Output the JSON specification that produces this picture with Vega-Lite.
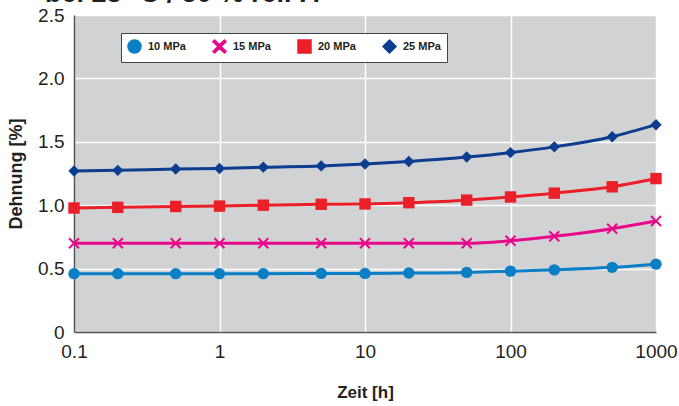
{
  "$schema": "https://vega.github.io/schema/vega-lite/v6.json",
  "autosize": "none",
  "width": 582,
  "height": 317,
  "padding": {"left": 74, "top": 15, "right": 23, "bottom": 74},
  "background": "white",
  "title": {"text": "bei 23 °C / 50 % rel. F.", "anchor": "start", "frame": "group", "fontSize": 27, "font": "Liberation Sans", "fontWeight": "bold", "color": "#231f20", "dx": -29, "offset": -2},
  "config": {
    "view": {"fill": "#d1d2d4", "stroke": null},
    "font": "Liberation Sans"
  },
  "data": {"values": [
    {"t": 0.1, "v": 0.46, "s": "10 MPa"}, {"t": 0.2, "v": 0.46, "s": "10 MPa"}, {"t": 0.5, "v": 0.46, "s": "10 MPa"}, {"t": 1, "v": 0.46, "s": "10 MPa"}, {"t": 2, "v": 0.46, "s": "10 MPa"}, {"t": 5, "v": 0.462, "s": "10 MPa"}, {"t": 10, "v": 0.462, "s": "10 MPa"}, {"t": 20, "v": 0.465, "s": "10 MPa"}, {"t": 50, "v": 0.47, "s": "10 MPa"}, {"t": 100, "v": 0.48, "s": "10 MPa"}, {"t": 200, "v": 0.49, "s": "10 MPa"}, {"t": 500, "v": 0.51, "s": "10 MPa"}, {"t": 1000, "v": 0.535, "s": "10 MPa"},
    {"t": 0.1, "v": 0.70, "s": "15 MPa"}, {"t": 0.2, "v": 0.70, "s": "15 MPa"}, {"t": 0.5, "v": 0.70, "s": "15 MPa"}, {"t": 1, "v": 0.70, "s": "15 MPa"}, {"t": 2, "v": 0.70, "s": "15 MPa"}, {"t": 5, "v": 0.70, "s": "15 MPa"}, {"t": 10, "v": 0.70, "s": "15 MPa"}, {"t": 20, "v": 0.70, "s": "15 MPa"}, {"t": 50, "v": 0.70, "s": "15 MPa"}, {"t": 100, "v": 0.72, "s": "15 MPa"}, {"t": 200, "v": 0.755, "s": "15 MPa"}, {"t": 500, "v": 0.815, "s": "15 MPa"}, {"t": 1000, "v": 0.875, "s": "15 MPa"},
    {"t": 0.1, "v": 0.978, "s": "20 MPa"}, {"t": 0.2, "v": 0.983, "s": "20 MPa"}, {"t": 0.5, "v": 0.99, "s": "20 MPa"}, {"t": 1, "v": 0.993, "s": "20 MPa"}, {"t": 2, "v": 1.0, "s": "20 MPa"}, {"t": 5, "v": 1.007, "s": "20 MPa"}, {"t": 10, "v": 1.01, "s": "20 MPa"}, {"t": 20, "v": 1.02, "s": "20 MPa"}, {"t": 50, "v": 1.04, "s": "20 MPa"}, {"t": 100, "v": 1.065, "s": "20 MPa"}, {"t": 200, "v": 1.095, "s": "20 MPa"}, {"t": 500, "v": 1.145, "s": "20 MPa"}, {"t": 1000, "v": 1.21, "s": "20 MPa"},
    {"t": 0.1, "v": 1.27, "s": "25 MPa"}, {"t": 0.2, "v": 1.275, "s": "25 MPa"}, {"t": 0.5, "v": 1.285, "s": "25 MPa"}, {"t": 1, "v": 1.29, "s": "25 MPa"}, {"t": 2, "v": 1.30, "s": "25 MPa"}, {"t": 5, "v": 1.31, "s": "25 MPa"}, {"t": 10, "v": 1.325, "s": "25 MPa"}, {"t": 20, "v": 1.345, "s": "25 MPa"}, {"t": 50, "v": 1.38, "s": "25 MPa"}, {"t": 100, "v": 1.415, "s": "25 MPa"}, {"t": 200, "v": 1.46, "s": "25 MPa"}, {"t": 500, "v": 1.54, "s": "25 MPa"}, {"t": 1000, "v": 1.635, "s": "25 MPa"}
  ]},
  "encoding": {
    "x": {"field": "t", "type": "quantitative",
      "scale": {"type": "log", "domain": [0.1, 1000], "nice": false},
      "axis": {"values": [0.1, 1, 10, 100, 1000], "labelExpr": "datum.value < 1 ? '0.1' : format(datum.value, 'd')", "title": "Zeit [h]", "titleFontSize": 17, "titleFontWeight": "bold", "titleColor": "#231f20", "titlePadding": 23, "labelFontSize": 19, "labelColor": "#231f20", "labelPadding": 10, "ticks": false, "domainColor": "#555555", "domainWidth": 1.5, "gridColor": "white", "gridWidth": 1.5, "labelFont": "Liberation Sans", "labelFlush": false}},
    "y": {"field": "v", "type": "quantitative",
      "scale": {"domain": [0, 2.5], "nice": false},
      "axis": {"values": [0, 0.5, 1, 1.5, 2, 2.5], "labelExpr": "datum.value == 0 ? '0' : format(datum.value, '.1f')", "title": "Dehnung [%]", "titleFontSize": 18, "titleFontWeight": "bold", "titleColor": "#231f20", "titlePadding": 12, "labelFontSize": 19, "labelColor": "#231f20", "labelPadding": 10, "ticks": false, "domainColor": "#555555", "domainWidth": 1.5, "gridColor": "white", "gridWidth": 1.5, "labelFont": "Liberation Sans", "labelFlush": false}},
    "color": {"field": "s", "type": "nominal",
      "scale": {"domain": ["10 MPa", "15 MPa", "20 MPa", "25 MPa"], "range": ["#0a7fc6", "#e8088a", "#ea1f27", "#0c3d8e"]},
      "legend": {"orient": "none", "legendX": 47, "legendY": 18, "direction": "horizontal", "title": null, "fillColor": "white", "strokeColor": "#444444", "padding": 6, "labelFontSize": 11, "labelFontWeight": "bold", "labelColor": "#231f20", "symbolSize": 169, "columnPadding": 24, "symbolOpacity": 1, "labelOffset": 6}}
  },
  "layer": [
    {"mark": {"type": "line", "interpolate": "monotone", "strokeWidth": 3}},
    {"mark": {"type": "point", "filled": true, "opacity": 1, "size": 130},
     "encoding": {
       "shape": {"field": "s", "type": "nominal",
         "scale": {"domain": ["10 MPa", "15 MPa", "20 MPa", "25 MPa"], "range": ["circle", "M-1,-0.75L-0.75,-1L0,-0.25L0.75,-1L1,-0.75L0.25,0L1,0.75L0.75,1L0,0.25L-0.75,1L-1,0.75L-0.25,0Z", "square", "diamond"]},
         "legend": {"orient": "none", "legendX": 47, "legendY": 18, "direction": "horizontal", "title": null, "fillColor": "white", "strokeColor": "#444444", "padding": 6, "labelFontSize": 11, "labelFontWeight": "bold", "labelColor": "#231f20", "symbolSize": 169, "columnPadding": 24, "symbolOpacity": 1, "labelOffset": 6}}
     }}
  ]
}
